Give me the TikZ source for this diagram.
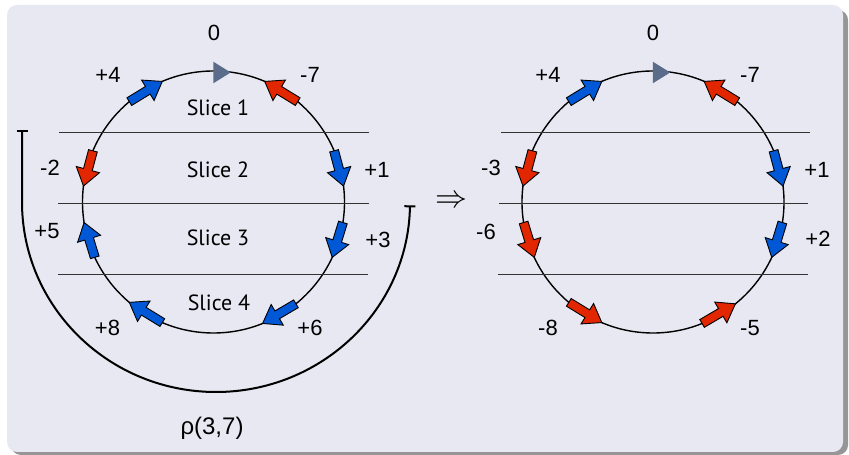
\RequirePackage{fix-cm}
\documentclass[tikz,border=0pt]{standalone}
\usepackage{fontspec}
\setmainfont{PT Sans}
\newfontfamily\numfont{Liberation Sans}
\usetikzlibrary{arrows.meta}
\definecolor{frameBg}{RGB}{232,232,243}
\definecolor{shadowCol}{RGB}{150,150,150}
\definecolor{arrBlue}{RGB}{0,88,214}
\definecolor{arrRed}{RGB}{226,38,0}
\definecolor{triCol}{RGB}{90,108,138}
\tikzset{
  num/.style={font=\numfont\fontsize{22}{26}\selectfont, inner sep=0pt},
  slicelbl/.style={font=\fontsize{22}{26}\selectfont, inner sep=0pt},
  ring/.style={draw=black, line width=1.4pt},
  cut/.style={draw=black!80, line width=0.9pt},
  rhoarc/.style={draw=black, line width=2pt, {Bar[width=11pt]}-{Bar[width=11pt]}},
  blockarr/.style={draw=black, line width=0.9pt, line join=miter, miter limit=6},
}
\def\crad{131}
\newcommand\blkarrow[5]{%
  \pgfmathsetmacro\baMid{((#3)+(#4))/2}%
  \pgfmathsetmacro\baDir{((#4)>(#3)) ? (\baMid+90) : (\baMid-90)}%
  \pgfmathsetmacro\baLen{2*\crad*sin(abs((#4)-(#3))/2)}%
  \pgfmathsetmacro\baNeck{\baLen-17}%
  \begin{scope}[shift={(#1,#2)}, shift={(#3:\crad)}, rotate=\baDir]
    \filldraw[blockarr, fill=#5]
      (0,-4.5) -- (\baNeck,-4.5) -- (\baNeck,-12) -- (\baLen,0) -- (\baNeck,12) -- (\baNeck,4.5) -- (0,4.5) -- cycle;
  \end{scope}}
\begin{document}
\begin{tikzpicture}[x=1pt,y=1pt]
\useasboundingbox (0,0) rectangle (849,455);
% frame with shadow
\fill[shadowCol, rounded corners=10pt] (11,0) rectangle (848,445);
\fill[frameBg, rounded corners=10pt] (7,3) rectangle (843,450);

% ---------- left circle ----------
\coordinate (c1) at (213.5,253);
\draw[ring] (c1) circle[radius=\crad];
\draw[cut] (59,322.5) -- (369,322.5);
\draw[cut] (58,252) -- (369,252);
\draw[cut] (58,180.5) -- (368,180.5);
\fill[triCol] (213.3,393.3) -- (230.7,382.5) -- (213.3,371.7) -- cycle;
\blkarrow{213.5}{253}{130}{113}{arrBlue}
\blkarrow{213.5}{253}{50}{67}{arrRed}
\blkarrow{213.5}{253}{23}{7}{arrBlue}
\blkarrow{213.5}{253}{-9}{-25}{arrBlue}
\blkarrow{213.5}{253}{-51}{-68}{arrBlue}
\blkarrow{213.5}{253}{-113}{-130}{arrBlue}
\blkarrow{213.5}{253}{205}{189}{arrBlue}
\blkarrow{213.5}{253}{157}{173}{arrRed}

\node[num] (l0) at (214,422) {0};
\node[num] (lp4) at (108,380) {+4};
\node[num] (lm7) at (310,380) {-7};
\node[num] (lm2) at (50,287) {-2};
\node[num] (lp1) at (377,285.5) {+1};
\node[num] (lp5) at (47,224) {+5};
\node[num] (lp3) at (378,215) {+3};
\node[num] (lp8) at (107.5,127) {+8};
\node[num] (lp6) at (310,127) {+6};

\node[slicelbl] (s1) at (218,347) {Slice 1};
\node[slicelbl] (s2) at (218,285) {Slice 2};
\node[slicelbl] (s3) at (218,217) {Slice 3};
\node[slicelbl] (s4) at (219,152) {Slice 4};

% rho arc
\coordinate (rhoA) at (22,325);
\coordinate (rhoB) at (22,253);
\draw[rhoarc] (rhoA) -- (rhoB) arc[start angle=180, end angle=359, x radius=194, y radius=190];
\node[num, font=\numfont\fontsize{24}{28}\selectfont] (rho) at (212,27) {ρ(3,7)};

% implies
\node[font=\fontsize{32}{34}\selectfont, inner sep=0pt] (impl) at (451,253) {$\Rightarrow$};

% ---------- right circle ----------
\coordinate (c2) at (653,253);
\draw[ring] (c2) circle[radius=\crad];
\draw[cut] (501,322.5) -- (810,322.5);
\draw[cut] (499,252) -- (808,252);
\draw[cut] (498,180.5) -- (808,180.5);
\fill[triCol] (652.8,393.3) -- (670.2,382.5) -- (652.8,371.7) -- cycle;
\blkarrow{653}{253}{130}{113}{arrBlue}
\blkarrow{653}{253}{50}{67}{arrRed}
\blkarrow{653}{253}{23}{7}{arrBlue}
\blkarrow{653}{253}{-9}{-25}{arrBlue}
\blkarrow{653}{253}{-68}{-51}{arrRed}
\blkarrow{653}{253}{-130}{-113}{arrRed}
\blkarrow{653}{253}{189}{205}{arrRed}
\blkarrow{653}{253}{157}{173}{arrRed}

\node[num] (r0) at (653,422) {0};
\node[num] (rp4) at (548,380) {+4};
\node[num] (rm7) at (750,380) {-7};
\node[num] (rm3) at (491,287) {-3};
\node[num] (rp1) at (817,285.5) {+1};
\node[num] (rm6) at (486,223) {-6};
\node[num] (rp2) at (818,216) {+2};
\node[num] (rm8) at (548,127) {-8};
\node[num] (rm5) at (750,127) {-5};
\end{tikzpicture}
\end{document}
